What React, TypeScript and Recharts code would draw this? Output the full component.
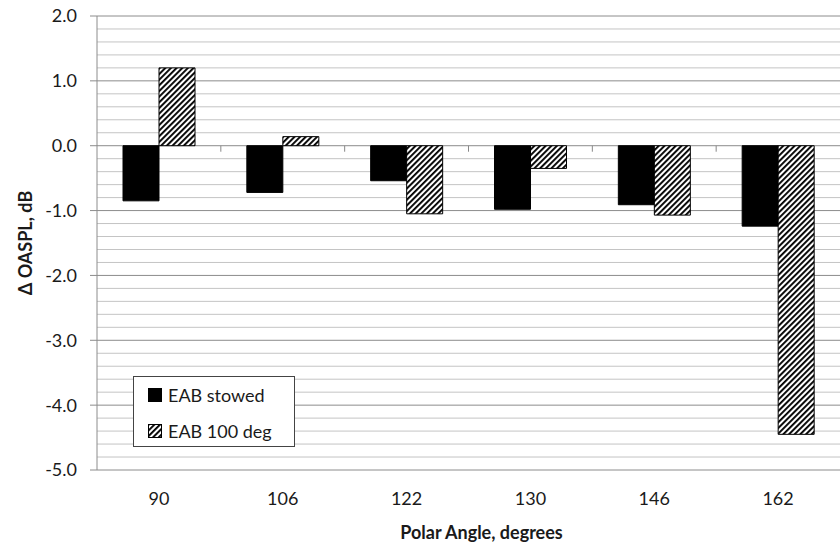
import React from 'react';
import { BarChart, Bar, XAxis, YAxis, CartesianGrid, Legend } from 'recharts';

const angles = ['90', '106', '122', '130', '146', '162'];
const stowed = [-0.85, -0.72, -0.54, -0.98, -0.91, -1.24];
const deg100 = [1.2, 0.14, -1.05, -0.35, -1.07, -4.45];
const majorTicks = [-5, -4, -3, -2, -1, 0, 1, 2];
const minorTicks = [
    -4.8, -4.6, -4.4, -4.2, -3.8, -3.6, -3.4, -3.2, -2.8, -2.6, -2.4, -2.2,
    -1.8, -1.6, -1.4, -1.2, -0.8, -0.6, -0.4, -0.2, 0.2, 0.4, 0.6, 0.8,
    1.2, 1.4, 1.6, 1.8,
];

const data = angles.map((angle, i) => ({ angle, stowed: stowed[i], deg100: deg100[i] }));

const W = 840;
const H = 545;
const TOP = 16;
const BOTTOM = 470;
const LEFT = 97;
const Y_MIN = -5;
const Y_MAX = 2;
const FONT = 'Lato, "Open Sans", sans-serif';
const TEXT = '#1a1a1a';

const CategoryTick = (props: any) => {
    const { x, y, payload, index } = props;
    const half = payload?.offset || (W - LEFT) / angles.length / 2;
    const zeroY = TOP + ((BOTTOM - TOP) * Y_MAX) / (Y_MAX - Y_MIN);
    return (
        <g>
            {index < angles.length - 1 && (
                <line x1={x + half} x2={x + half} y1={zeroY} y2={zeroY + 6} stroke="#888" />
            )}
            <text x={x} y={y} dy={35} textAnchor="middle" fontSize={18} fill={TEXT} fontFamily={FONT}>
                {payload.value}
            </text>
        </g>
    );
};

const Swatch = ({ hatched }: { hatched: boolean }) => (
    <svg width={14} height={14} style={{ display: 'block' }}>
        <rect x={0.5} y={0.5} width={13} height={13} fill={hatched ? 'url(#hatch)' : '#000'} stroke="#000" />
    </svg>
);

const LegendBox = () => (
    <div
        style={{
            width: 162,
            height: 71,
            boxSizing: 'border-box',
            border: '1px solid #444',
            background: '#fff',
            fontFamily: FONT,
            fontSize: 18,
            color: TEXT,
            paddingLeft: 14,
            paddingTop: 6,
        }}
    >
        <div style={{ display: 'flex', alignItems: 'center', height: 24, gap: 6 }}>
            <Swatch hatched={false} />
            <span>EAB stowed</span>
        </div>
        <div style={{ display: 'flex', alignItems: 'center', height: 24, gap: 6, marginTop: 12 }}>
            <Swatch hatched={true} />
            <span>EAB 100 deg</span>
        </div>
    </div>
);

const App: React.FC = () => {
    return (
        <div style={{ position: 'fixed', left: 0, top: 0, width: W, height: H, background: '#fff' }}>
            <BarChart
                width={W}
                height={H}
                data={data}
                margin={{ top: TOP, right: 0, left: 0, bottom: 0 }}
                barCategoryGap="21%"
                barGap={0}
            >
                <defs>
                    <pattern id="hatch" patternUnits="userSpaceOnUse" width={4} height={4} patternTransform="rotate(45)">
                        <rect width={4} height={4} fill="#fff" />
                        <line x1={0} y1={0} x2={0} y2={4} stroke="#000" strokeWidth={3.8} />
                    </pattern>
                </defs>
                <CartesianGrid
                    yAxisId="major"
                    vertical={false}
                    stroke="#c4c4c4"
                    horizontalValues={minorTicks}
                />
                <CartesianGrid yAxisId="major" vertical={false} stroke="#8c8c8c" />
                <XAxis
                    dataKey="angle"
                    height={H - BOTTOM}
                    axisLine={false}
                    tickLine={false}
                    tickSize={0}
                    tickMargin={0}
                    tick={<CategoryTick />}
                    interval={0}
                    label={{
                        value: 'Polar Angle, degrees',
                        position: 'insideBottom',
                        offset: 6,
                        dx: 13,
                        style: { fontFamily: FONT, fontSize: 18, fontWeight: 700, fill: TEXT },
                    }}
                />
                <YAxis
                    yAxisId="major"
                    width={LEFT}
                    domain={[Y_MIN, Y_MAX]}
                    ticks={majorTicks}
                    interval={0}
                    tickFormatter={(v: number) => v.toFixed(1)}
                    axisLine={{ stroke: '#8c8c8c' }}
                    tickLine={{ stroke: '#8c8c8c' }}
                    tickSize={7}
                    tickMargin={13}
                    tick={{ fontFamily: FONT, fontSize: 18, fill: TEXT }}
                    label={{
                        content: ({ viewBox }: any) => {
                            const cx = viewBox.x + 25;
                            const cy = viewBox.y + viewBox.height / 2;
                            return (
                                <text
                                    x={cx}
                                    y={cy}
                                    transform={`rotate(-90 ${cx} ${cy})`}
                                    textAnchor="middle"
                                    dominantBaseline="central"
                                    fontFamily={FONT}
                                    fontSize={18}
                                    fontWeight={700}
                                    fill={TEXT}
                                >
                                    Δ OASPL, dB
                                </text>
                            );
                        },
                    }}
                />
                <Legend
                    layout="vertical"
                    align="center"
                    verticalAlign="middle"
                    wrapperStyle={{ left: 133, top: 376, width: 162 }}
                    content={<LegendBox />}
                />
                <Bar
                    yAxisId="major"
                    dataKey="stowed"
                    name="EAB stowed"
                    fill="#000"
                    stroke="#000"
                    strokeWidth={1}
                    isAnimationActive={false}
                />
                <Bar
                    yAxisId="major"
                    dataKey="deg100"
                    name="EAB 100 deg"
                    fill="url(#hatch)"
                    stroke="#000"
                    strokeWidth={1}
                    isAnimationActive={false}
                />
            </BarChart>
        </div>
    );
};

export default App;
